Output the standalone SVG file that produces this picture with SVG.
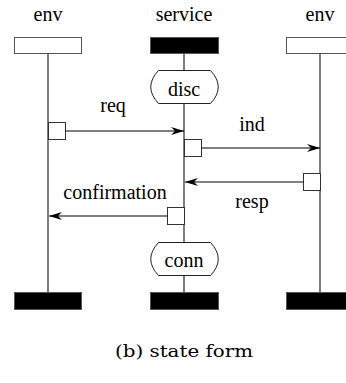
<svg xmlns="http://www.w3.org/2000/svg" width="346" height="383" viewBox="0 0 346 383">
<style>
.life{stroke:#3a3a3a;stroke-width:1.3;fill:none}
.hdr{fill:#fff;stroke:#555;stroke-width:1}
.end{fill:#000;stroke:#555;stroke-width:1}
.st{fill:#fff;stroke:#222;stroke-width:1}
.sq{fill:#fff;stroke:#333;stroke-width:1}
.msg{stroke:#000;stroke-width:1.2;fill:none;marker-end:url(#ah)}
</style>
<defs>
<marker id="ah" markerWidth="14" markerHeight="10" refX="13" refY="4" orient="auto" markerUnits="userSpaceOnUse">
<path d="M0,0 L13,4 L0,8 L4,4 Z" fill="#000"/>
</marker>
</defs>
<g id="env-left">
<text x="48" y="21" font-family="Liberation Serif" font-size="20" text-anchor="middle">env</text>
<rect class="hdr" x="14.5" y="37.5" width="67" height="16"/>
<line class="life" x1="48" y1="54" x2="48" y2="292"/>
<rect class="end" x="14.5" y="292.5" width="67" height="17"/>
</g>
<g id="service">
<text x="184" y="21" font-family="Liberation Serif" font-size="20" text-anchor="middle">service</text>
<rect class="end" x="150.5" y="37.5" width="68" height="16"/>
<line class="life" x1="184" y1="54" x2="184" y2="70"/>
<line class="life" x1="184" y1="104" x2="184" y2="242"/>
<line class="life" x1="184" y1="275" x2="184" y2="292"/>
<rect class="end" x="150.5" y="292.5" width="68" height="17"/>
</g>
<g id="env-right">
<text x="320" y="21" font-family="Liberation Serif" font-size="20" text-anchor="middle">env</text>
<rect class="hdr" x="286.5" y="37.5" width="68" height="16"/>
<line class="life" x1="320" y1="54" x2="320" y2="292"/>
<rect class="end" x="286.5" y="292.5" width="68" height="17"/>
</g>
<g id="state-disc">
<path class="st" d="M158.5,70.5 H210.5 Q226,87 210.5,103.5 H158.5 Q143,87 158.5,70.5 Z"/>
<text x="184" y="96" font-family="Liberation Serif" font-size="20" text-anchor="middle">disc</text>
</g>
<g id="state-conn">
<path class="st" d="M158.5,242.5 H210.5 Q226,259 210.5,275.5 H158.5 Q143,259 158.5,242.5 Z"/>
<text x="184" y="267" font-family="Liberation Serif" font-size="20" text-anchor="middle">conn</text>
</g>
<g id="connectors">
<rect class="sq" x="48.5" y="122.5" width="17" height="17"/>
<line class="msg" x1="65.5" y1="131" x2="184" y2="131"/>
<text x="113" y="112" font-family="Liberation Serif" font-size="20" text-anchor="middle">req</text>
<rect class="sq" x="184.5" y="139.5" width="17" height="17"/>
<line class="msg" x1="201.5" y1="148" x2="320" y2="148"/>
<text x="252" y="131" font-family="Liberation Serif" font-size="20" text-anchor="middle">ind</text>
<rect class="sq" x="303.5" y="173.5" width="17" height="17"/>
<line class="msg" x1="303.5" y1="182" x2="185" y2="182"/>
<text x="252" y="208" font-family="Liberation Serif" font-size="20" text-anchor="middle">resp</text>
<rect class="sq" x="167.5" y="207.5" width="17" height="17"/>
<line class="msg" x1="167.5" y1="216" x2="49" y2="216"/>
<text x="115" y="199" font-family="Liberation Serif" font-size="20" text-anchor="middle">confirmation</text>
</g>
<text x="184" y="357" font-family="DejaVu Serif" font-size="17" text-anchor="middle" textLength="138" lengthAdjust="spacingAndGlyphs">(b) state form</text>
</svg>
